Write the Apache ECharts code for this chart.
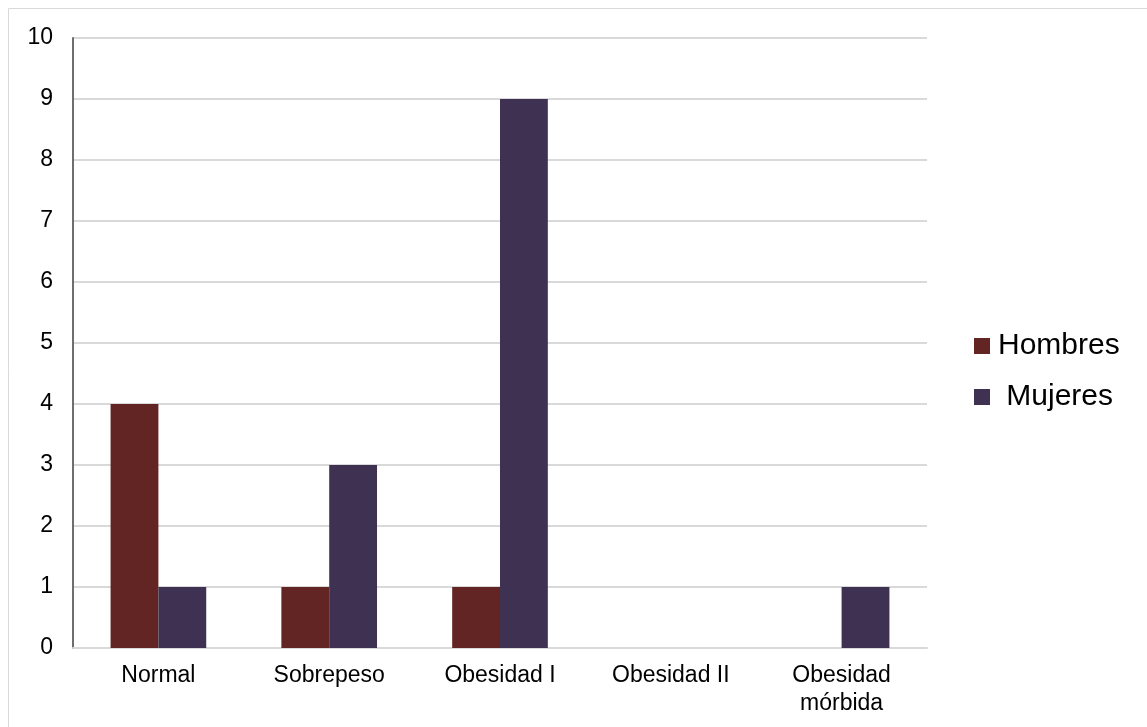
<!DOCTYPE html>
<html><head><meta charset="utf-8">
<script src="https://cdn.jsdelivr.net/npm/echarts@6/dist/echarts.min.js"></script>
<style>html,body{margin:0;padding:0;background:#fff}#c{width:1147px;height:727px}</style>
</head><body><div id="c"></div>
<script>
const categories = ['Normal', 'Sobrepeso', 'Obesidad I', 'Obesidad II', 'Obesidad\nmórbida'];
const hombres = [4, 1, 1, 0, 0];
const mujeres = [1, 3, 9, 0, 1];
const seriesNames = ['Hombres', 'Mujeres'];
const yTicks = [0, 10, 1];

const chart = echarts.init(document.getElementById('c'), null, {renderer: 'canvas'});
const font = "'Liberation Sans', Arial, sans-serif";
chart.setOption({
  animation: false,
  graphic: [{type: 'rect', shape: {x: 8.5, y: 8.5, width: 1300, height: 900}, style: {fill: 'none', stroke: '#d9d9d9', lineWidth: 1}, silent: true}],
  grid: {left: 73, right: 220, top: 38, bottom: 79, containLabel: false},
  legend: {
    orient: 'vertical', left: 969, top: 326, itemGap: 21, itemWidth: 16, itemHeight: 16,
    icon: 'rect',
    formatter: function (n) { return n === 'Mujeres' ? ' ' + n : n; },
    textStyle: {fontFamily: font, fontSize: 30, lineHeight: 30, color: '#000', padding: [0, 0, 0, 3]},
    data: seriesNames
  },
  xAxis: {
    type: 'category', data: categories,
    axisLine: {lineStyle: {color: '#d9d9d9', width: 2}},
    axisTick: {show: false},
    axisLabel: {fontFamily: font, fontSize: 23, color: '#000', margin: 14, lineHeight: 28}
  },
  yAxis: {
    type: 'value', min: yTicks[0], max: yTicks[1], interval: yTicks[2],
    axisLine: {show: true, lineStyle: {color: '#6e6e6e', width: 2}},
    axisTick: {show: false},
    splitLine: {lineStyle: {color: '#d9d9d9', width: 2}},
    axisLabel: {fontFamily: font, fontSize: 23, color: '#000', margin: 20}
  },
  series: [
    {name: seriesNames[0], type: 'bar', data: hombres, barGap: '0%', barCategoryGap: '44%',
     itemStyle: {color: '#632523'}},
    {name: seriesNames[1], type: 'bar', data: mujeres, barGap: '0%', barCategoryGap: '44%',
     itemStyle: {color: '#3f3151'}}
  ]
});
</script></body></html>
